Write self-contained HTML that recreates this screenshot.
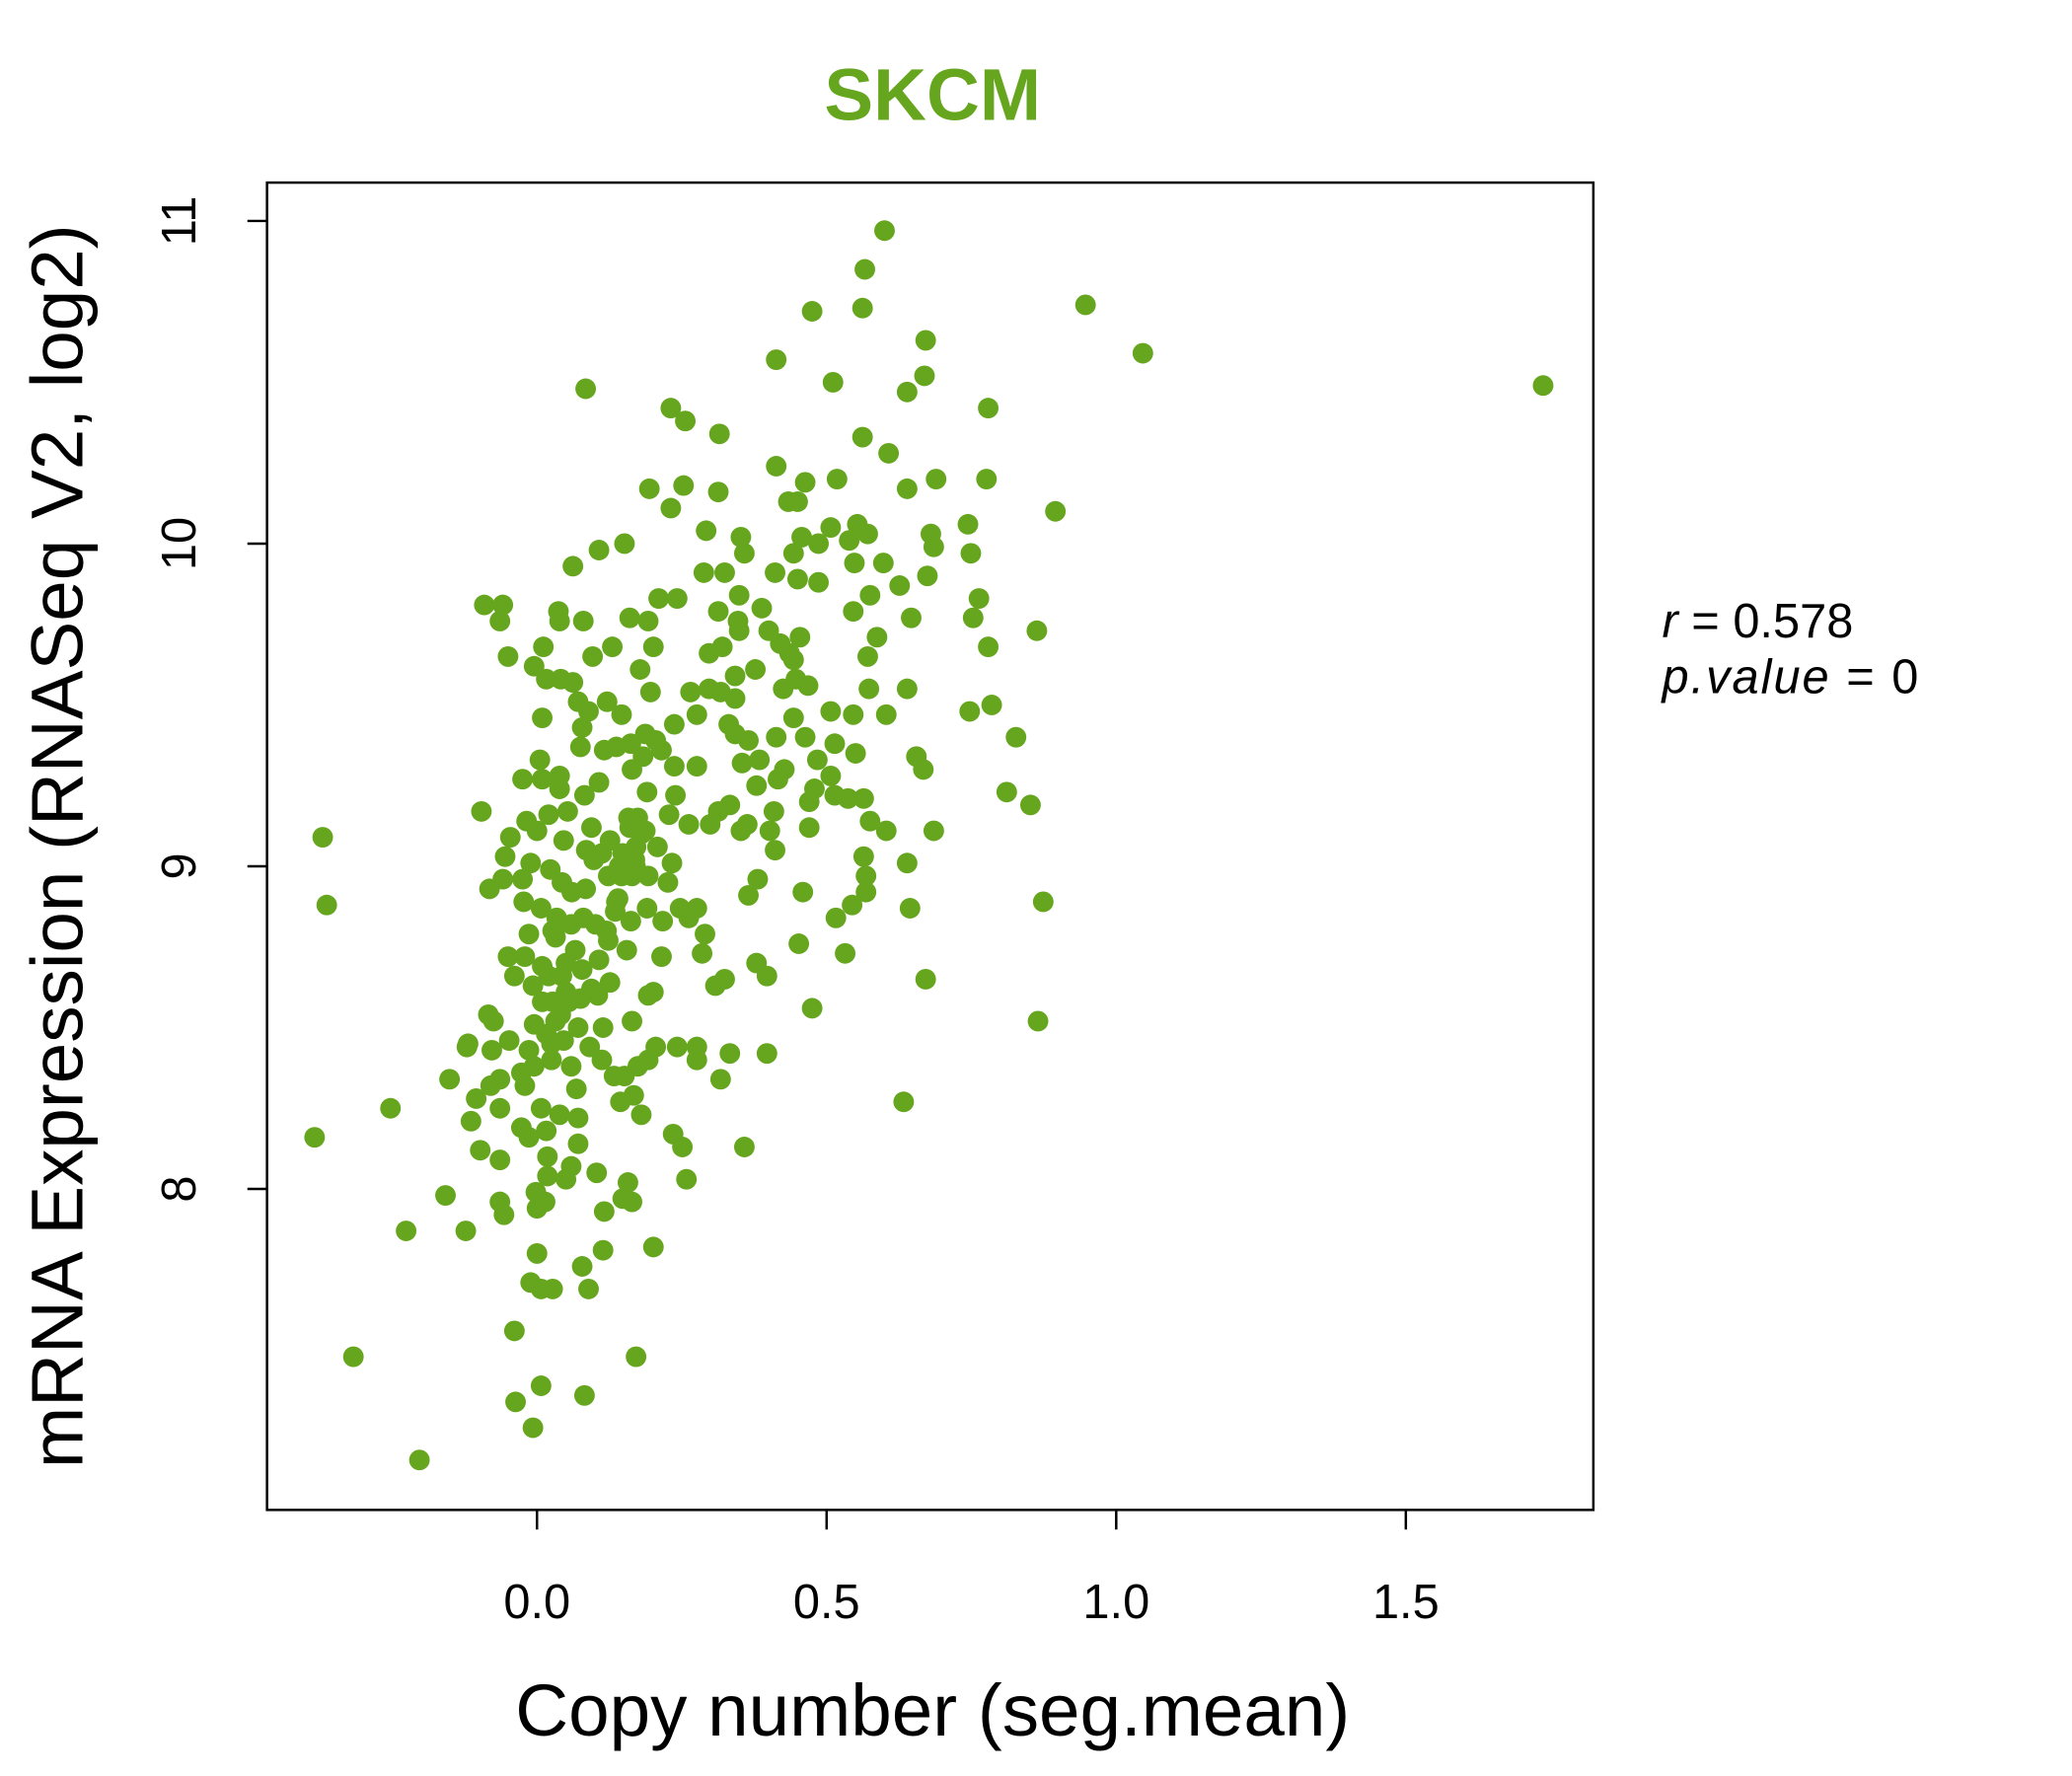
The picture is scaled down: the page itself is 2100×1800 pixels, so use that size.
<!DOCTYPE html>
<html><head><meta charset="utf-8"><style>
html,body{margin:0;padding:0;background:#fff;}
svg{display:block;font-family:"Liberation Sans",sans-serif;}
</style></head><body>
<svg id="chart" width="2100" height="1800" viewBox="0 0 2100 1800" xmlns="http://www.w3.org/2000/svg">
<g transform="scale(0.995)">
<text x="950" y="122" text-anchor="middle" font-size="75" font-weight="bold" fill="#66a61e">SKCM</text>
<rect x="272" y="186" width="1351" height="1352" fill="none" stroke="#000" stroke-width="2.5"/>
<g id="xaxis"></g>
<g id="yaxis"></g>
<g id="points"></g>
<text x="950" y="1768" text-anchor="middle" font-size="75">Copy number (seg.mean)</text>
<text transform="translate(84,862) rotate(-90)" text-anchor="middle" font-size="75">mRNA Expression (RNASeq V2, log2)</text>
<text x="1693" y="649" font-size="49"><tspan font-style="italic">r</tspan> = 0.578</text>
<text x="1693" y="706" font-size="49" letter-spacing="2"><tspan font-style="italic">p.value</tspan> = 0</text>
</g>
</svg>
<script>
const xTicks = [0.0, 0.5, 1.0, 1.5];
const xTickLabels = ["0.0", "0.5", "1.0", "1.5"];
const yTicks = [8, 9, 10, 11];
const yTickLabels = ["8", "9", "10", "11"];
const copyNumber = [1.737,1.046,0.947,0.895,0.600,0.566,0.562,0.475,0.671,0.413,0.511,0.639,0.669,0.084,0.779,0.231,0.256,0.315,0.562,0.607,0.413,0.518,0.689,0.776,0.463,0.253,0.639,0.194,0.313,0.434,0.450,0.231,0.744,0.507,0.553,0.571,0.680,0.292,0.352,0.457,0.486,0.539,0.151,0.107,0.685,0.749,0.443,0.358,0.598,0.548,0.062,0.324,0.288,0.411,0.450,0.674,0.486,0.626,0.763,0.349,0.210,0.242,0.575,0.546,-0.091,-0.059,0.037,0.313,0.388,0.347,0.646,0.753,-0.064,0.039,0.080,0.160,0.192,0.863,0.400,0.349,0.779,0.454,0.587,0.320,0.420,0.436,0.011,0.130,0.201,0.297,-0.050,0.096,0.571,0.443,-0.005,0.377,0.178,0.342,0.447,0.016,0.041,0.062,0.425,0.468,0.573,0.639,0.196,0.265,0.297,0.317,0.071,0.121,0.785,0.342,0.089,0.146,0.507,0.546,0.747,0.603,0.276,0.443,0.009,0.237,0.331,0.342,0.078,0.187,0.205,0.413,0.463,0.365,0.827,0.514,0.550,0.162,0.137,0.116,0.215,0.075,0.655,0.384,0.354,0.005,0.183,0.237,0.276,0.484,0.667,0.427,0.416,0.164,0.039,-0.025,0.009,0.507,0.107,0.379,0.479,0.239,0.190,0.811,0.564,0.514,0.537,0.082,0.470,0.039,-0.096,0.333,0.313,0.409,0.852,0.228,0.174,0.020,0.053,0.575,0.363,0.262,0.299,0.352,0.685,0.470,0.603,-0.018,0.000,0.094,0.160,0.187,0.402,-0.370,-0.046,0.126,0.046,0.171,0.148,0.112,0.411,0.208,0.564,0.639,-0.055,-0.011,0.023,0.098,0.142,0.233,0.123,0.164,0.192,0.568,-0.082,-0.059,-0.025,0.381,0.226,0.043,0.084,0.459,0.568,0.544,-0.363,0.874,-0.023,0.007,0.137,0.190,0.365,0.516,0.644,0.247,0.276,0.262,0.034,0.080,-0.014,0.027,0.059,0.162,0.217,0.290,0.123,0.155,0.452,0.532,-0.050,-0.021,0.009,0.215,0.285,0.107,0.078,0.379,-0.039,0.020,0.397,0.324,0.308,0.126,0.094,0.671,-0.007,0.050,0.201,0.192,0.027,0.075,0.041,0.475,-0.084,-0.075,0.164,0.114,0.865,-0.005,0.016,0.071,-0.119,-0.121,-0.078,-0.048,-0.014,0.046,0.091,0.205,0.242,0.276,0.276,0.397,0.333,0.025,0.059,0.112,0.174,0.192,-0.027,-0.005,-0.151,-0.064,0.133,0.151,0.317,-0.080,-0.021,0.068,0.167,0.144,0.633,-0.105,-0.064,-0.253,0.007,0.039,0.180,-0.114,-0.027,0.071,-0.014,0.016,-0.384,0.235,0.251,0.358,-0.098,-0.064,0.018,0.059,0.071,0.103,0.050,0.018,0.258,0.157,-0.158,-0.002,0.014,0.000,-0.064,-0.057,0.164,0.148,0.116,-0.226,-0.123,0.000,0.114,0.201,0.078,-0.011,0.007,0.027,0.089,-0.039,-0.317,0.171,0.007,-0.037,0.082,-0.007,-0.203,0.032,0.043,0.055,0.032,0.009,0.066,0.101,0.135,0.146,0.169,0.180,0.158,0.050,0.025,0.060,0.085,0.105,0.140,0.120,0.170];
const expression = [10.49,10.59,10.74,10.10,10.97,10.85,10.73,10.72,10.63,10.57,10.50,10.47,10.52,10.48,10.42,10.42,10.38,10.34,10.33,10.28,10.24,10.20,10.20,10.20,10.19,10.18,10.17,10.17,10.16,10.13,10.13,10.11,10.06,10.05,10.06,10.03,10.03,10.04,10.02,10.02,10.00,10.01,10.00,9.98,9.99,9.97,9.97,9.97,9.94,9.94,9.93,9.91,9.91,9.91,9.89,9.90,9.88,9.87,9.83,9.84,9.83,9.83,9.84,9.79,9.81,9.81,9.79,9.79,9.80,9.76,9.77,9.77,9.76,9.76,9.76,9.77,9.76,9.73,9.73,9.73,9.68,9.71,9.71,9.68,9.69,9.66,9.68,9.68,9.68,9.66,9.65,9.65,9.65,9.64,9.62,9.61,9.61,9.59,9.58,9.58,9.58,9.57,9.55,9.56,9.55,9.55,9.54,9.54,9.55,9.54,9.51,9.51,9.50,9.52,9.48,9.47,9.48,9.47,9.48,9.47,9.47,9.46,9.46,9.44,9.44,9.41,9.43,9.41,9.39,9.40,9.40,9.39,9.40,9.38,9.35,9.38,9.37,9.36,9.36,9.37,9.34,9.33,9.32,9.33,9.34,9.31,9.31,9.33,9.30,9.30,9.27,9.30,9.28,9.27,9.27,9.28,9.26,9.25,9.24,9.22,9.23,9.23,9.21,9.22,9.21,9.22,9.20,9.24,9.17,9.19,9.17,9.17,9.19,9.16,9.15,9.16,9.17,9.14,9.13,9.13,9.13,9.11,9.11,9.12,9.11,9.14,9.11,9.12,9.12,9.11,9.11,9.09,9.09,9.08,9.08,9.06,9.04,9.04,9.05,9.06,9.03,9.01,9.03,9.01,8.99,9.02,9.00,9.01,8.97,8.97,8.97,8.97,8.93,8.96,8.96,8.96,8.95,8.95,8.93,8.92,8.92,8.88,8.88,8.89,8.89,8.87,8.89,8.87,8.91,8.84,8.87,8.87,8.87,8.84,8.84,8.84,8.79,8.80,8.82,8.83,8.83,8.79,8.77,8.74,8.76,8.73,8.72,8.72,8.69,8.72,8.73,8.71,8.68,8.70,8.66,8.66,8.66,8.65,8.63,8.64,8.62,8.65,8.63,8.61,8.61,8.60,8.58,8.59,8.54,8.56,8.54,8.52,8.52,8.50,8.52,8.51,8.48,8.50,8.45,8.44,8.43,8.46,8.43,8.46,8.44,8.44,8.44,8.44,8.40,8.42,8.42,8.40,8.38,8.40,8.38,8.40,8.36,8.38,8.34,8.34,8.35,8.35,8.34,8.32,8.32,8.31,8.29,8.27,8.27,8.28,8.25,8.25,8.25,8.23,8.23,8.21,8.19,8.22,8.16,8.18,8.16,8.17,8.13,8.13,8.12,8.09,8.10,8.07,8.14,8.05,8.03,8.04,8.03,8.02,7.98,7.99,7.96,7.94,7.96,7.92,7.96,7.97,7.93,7.87,7.87,7.80,7.81,7.82,7.76,7.71,7.69,7.69,7.69,7.56,7.48,7.48,7.39,7.34,7.36,7.26,7.16,8.78,8.66,8.58,8.52,8.58,8.74,8.82,8.86,8.97,9.02,9.10,9.15,8.70,8.45,8.92,9.05,8.60,8.90,8.80,9.00];

const NS = "http://www.w3.org/2000/svg";
const xScale = v => 547 + v * 438 * 2100 / 1559;
const yScale = v => 186 + (167 - 138) * 1.347 + (11 - v) * 244 * 1.347;

const xa = document.getElementById('xaxis');
xTicks.forEach((t, i) => {
  const l = document.createElementNS(NS, 'line');
  
  
  l.setAttribute('x1', xScale(t)); l.setAttribute('x2', xScale(t));
  l.setAttribute('y1', 1538); l.setAttribute('y2', 1558);
  l.setAttribute('stroke', '#000'); l.setAttribute('stroke-width', 2.5);
  xa.appendChild(l);
  const tx = document.createElementNS(NS, 'text');
  
  
  tx.setAttribute('x', xScale(t)); tx.setAttribute('y', 1648);
  tx.setAttribute('text-anchor', 'middle'); tx.setAttribute('font-size', 49);
  tx.textContent = xTickLabels[i];
  xa.appendChild(tx);
});
const ya = document.getElementById('yaxis');
yTicks.forEach((t, i) => {
  const l = document.createElementNS(NS, 'line');
  
  
  l.setAttribute('x1', 252); l.setAttribute('x2', 272);
  l.setAttribute('y1', yScale(t)); l.setAttribute('y2', yScale(t));
  l.setAttribute('stroke', '#000'); l.setAttribute('stroke-width', 2.5);
  ya.appendChild(l);
  const tx = document.createElementNS(NS, 'text');
  
  
  tx.setAttribute('transform', 'translate(199,' + yScale(t) + ') rotate(-90)');
  tx.setAttribute('text-anchor', 'middle'); tx.setAttribute('font-size', 49);
  tx.textContent = yTickLabels[i];
  ya.appendChild(tx);
});
const pg = document.getElementById('points');
copyNumber.forEach((v, i) => {
  const c = document.createElementNS(NS, 'circle');
  
  
  c.setAttribute('cx', xScale(v)); c.setAttribute('cy', yScale(expression[i]));
  c.setAttribute('r', 10.5); c.setAttribute('fill', '#66a61e');
  pg.appendChild(c);
});
</script>
</body></html>
